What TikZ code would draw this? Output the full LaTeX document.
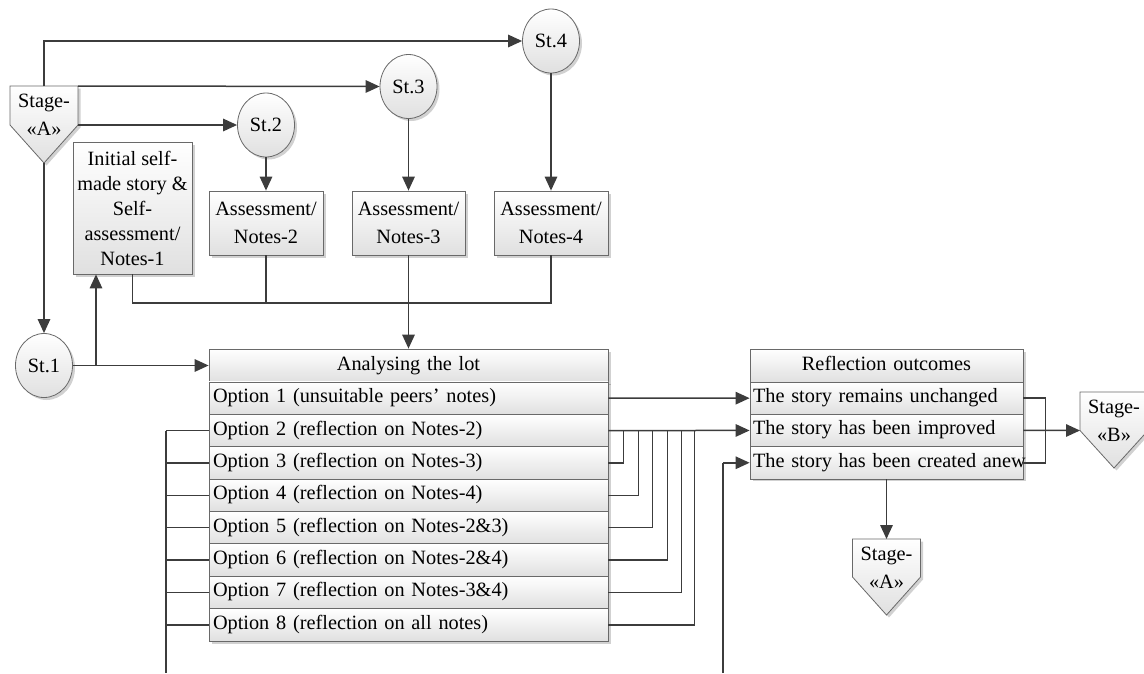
\documentclass[tikz,border=0pt]{standalone}
\usepackage{fontspec}
\setmainfont{Liberation Serif}
\usetikzlibrary{arrows.meta,shapes.geometric,shadows,calc}
\definecolor{linec}{RGB}{60,60,60}
\definecolor{boxc}{RGB}{105,105,105}
\definecolor{shadeb}{RGB}{224,224,224}
\begin{document}
\begin{tikzpicture}[x=1pt,y=-1pt,
  font=\fontsize{20.3}{24.5}\selectfont,
  conn/.style={draw=linec,line width=1.5pt},
  arr/.style={conn,-{Triangle[length=14pt,width=12.5pt]}},
  bus/.style={draw=linec,line width=2.4pt},
  boxbase/.style={draw=boxc,line width=0.8pt,top color=white,bottom color=shadeb,
    drop shadow={shadow xshift=2.5pt,shadow yshift=-2.5pt,fill=black,opacity=0.18}},
  box/.style={boxbase,rectangle,align=center,inner sep=0pt},
  stcirc/.style={boxbase,ellipse,minimum width=57pt,minimum height=64pt,inner sep=0pt},
  rowA/.style={boxbase,rectangle,minimum height=32.4pt,inner ysep=0pt,inner xsep=4pt,
    text width=391pt,align=left,text height=13.5pt,text depth=4.5pt},
  rowB/.style={boxbase,rectangle,minimum height=32.3pt,inner ysep=0pt,inner xsep=3pt,
    text width=267pt,align=left,text height=13.5pt,text depth=4.5pt},
  headA/.style={rowA,align=center,minimum height=33pt},
  headB/.style={rowB,align=center,minimum height=33pt},
  stagetext/.style={align=center,inner sep=0pt}
]
\useasboundingbox (0,0) rectangle (1144,673);

% Stage-A (top left)
\path[boxbase] (10,86) coordinate (sAnw) -- (78,86) coordinate (sAne) -- (78,125) coordinate (sAe)
  -- (44,163) coordinate (sAs) -- (10,125) -- cycle;
\coordinate (sAn) at (44,86);
\node[stagetext] (sAtxt) at (44,115) {Stage-\\[3.5pt]«A»};

% stages circles
\node[stcirc] (st1) at (44,365.5) {St.1};
\node[stcirc] (st2) at (266,125) {St.2};
\node[stcirc] (st3) at (408.5,86.5) {St.3};
\node[stcirc] (st4) at (551,41) {St.4};

% boxes
\node[box,minimum width=119pt,minimum height=132pt,font=\fontsize{20.3}{25}\selectfont] (init) at (132.5,208)
  {Initial self-\\made story \&\\Self-\\assessment/\\Notes-1};
\node[box,minimum width=114pt,minimum height=64pt] (n2) at (266,223) {Assessment/\\[4pt]Notes-2};
\node[box,minimum width=113pt,minimum height=64pt] (n3) at (408.5,223) {Assessment/\\[4pt]Notes-3};
\node[box,minimum width=114pt,minimum height=64pt] (n4) at (551,223) {Assessment/\\[4pt]Notes-4};

% Analysing table
\node[headA] (head) at (408.5,365.5) {Analysing the lot};
\node[rowA] (opt1) at (408.5,398.19) {Option 1 (unsuitable peers’ notes)};
\node[rowA] (opt2) at (408.5,430.56) {Option 2 (reflection on Notes-2)};
\node[rowA] (opt3) at (408.5,462.94) {Option 3 (reflection on Notes-3)};
\node[rowA] (opt4) at (408.5,495.31) {Option 4 (reflection on Notes-4)};
\node[rowA] (opt5) at (408.5,527.69) {Option 5 (reflection on Notes-2\&3)};
\node[rowA] (opt6) at (408.5,560.06) {Option 6 (reflection on Notes-2\&4)};
\node[rowA] (opt7) at (408.5,592.44) {Option 7 (reflection on Notes-3\&4)};
\node[rowA] (opt8) at (408.5,624.81) {Option 8 (reflection on all notes)};

% Reflection table
\node[headB] (rhead) at (886.5,365.5) {Reflection outcomes};
\node[rowB] (ref1) at (886.5,398.15) {\mbox{The story remains unchanged}};
\node[rowB] (ref2) at (886.5,430.45) {\mbox{The story has been improved}};
\node[rowB] (ref3) at (886.5,462.75) {\mbox{The story has been created anew}};

% Stage-B (right)
\path[boxbase] (1080,392) -- (1148,392) -- (1148,430.5) -- (1114,468) -- (1080,430.5) coordinate (sBw) -- cycle;
\node[stagetext] (sBtxt) at (1114,421) {Stage-\\[3.5pt]«B»};

% Stage-A (bottom)
\path[boxbase] (852.5,539) -- (920.5,539) -- (920.5,577) -- (886.5,615) -- (852.5,577) -- cycle;
\coordinate (sA2n) at (886.5,539);
\node[stagetext] (sA2txt) at (886.5,568) {Stage-\\[3.5pt]«A»};

% connectors from Stage-A
\draw[arr] (sAn) |- (st4.west);
\draw[arr] (sAne) -- (st3.west);
\draw[arr] (sAe) -- (st2.west);
\draw[arr] (sAs) -- (st1.north);

% stages to assessments
\draw[arr] (st2.south) -- (n2.north);
\draw[arr] (st3.south) -- (n3.north);
\draw[arr] (st4.south) -- (n4.north);

% St.1 outputs
\coordinate (j1) at (96,365.5);
\draw[arr] (st1.east) -- (head.west);
\draw[arr] (j1) -- (j1 |- init.south);

% collector
\coordinate (coll) at (408.5,303);
\draw[conn] (init.south) |- (coll) -| (n4.south);
\draw[conn] (n2.south) -- (n2.south |- coll);
\draw[arr] (n3.south) -- (head.north);

% left bus
\coordinate (busL) at (166,673);
\draw[conn] (opt2.west) -- (opt2.west -| busL);
\draw[bus] (opt2.west -| busL) -- (busL);
\foreach \k in {3,...,8} \draw[conn] (opt\k.west) -- (opt\k.west -| busL);

% right merges
\draw[arr] (opt1.east) -- (ref1.west);
\draw[arr] (opt2.east) -- (ref2.west);
\draw[conn] (opt3.east) -| ([xshift=15pt]opt2.east);
\draw[conn] (opt4.east) -| ([xshift=30pt]opt2.east);
\draw[conn] (opt5.east) -| ([xshift=44pt]opt2.east);
\draw[conn] (opt6.east) -| ([xshift=59pt]opt2.east);
\draw[conn] (opt7.east) -| ([xshift=73pt]opt2.east);
\draw[conn] (opt8.east) -| ([xshift=86pt]opt2.east);

% incoming bus to ref3
\coordinate (busR) at (723,673);
\draw[bus] (busR) -- (busR |- ref3.west);
\draw[arr] (busR |- ref3.west) -- (ref3.west);

% reflection outputs
\draw[conn] (ref1.east) -- ++(22,0) |- (ref3.east);
\draw[arr] (ref2.east) -- (sBw);
\draw[arr] (ref3.south) -- (sA2n);
\end{tikzpicture}
\end{document}
